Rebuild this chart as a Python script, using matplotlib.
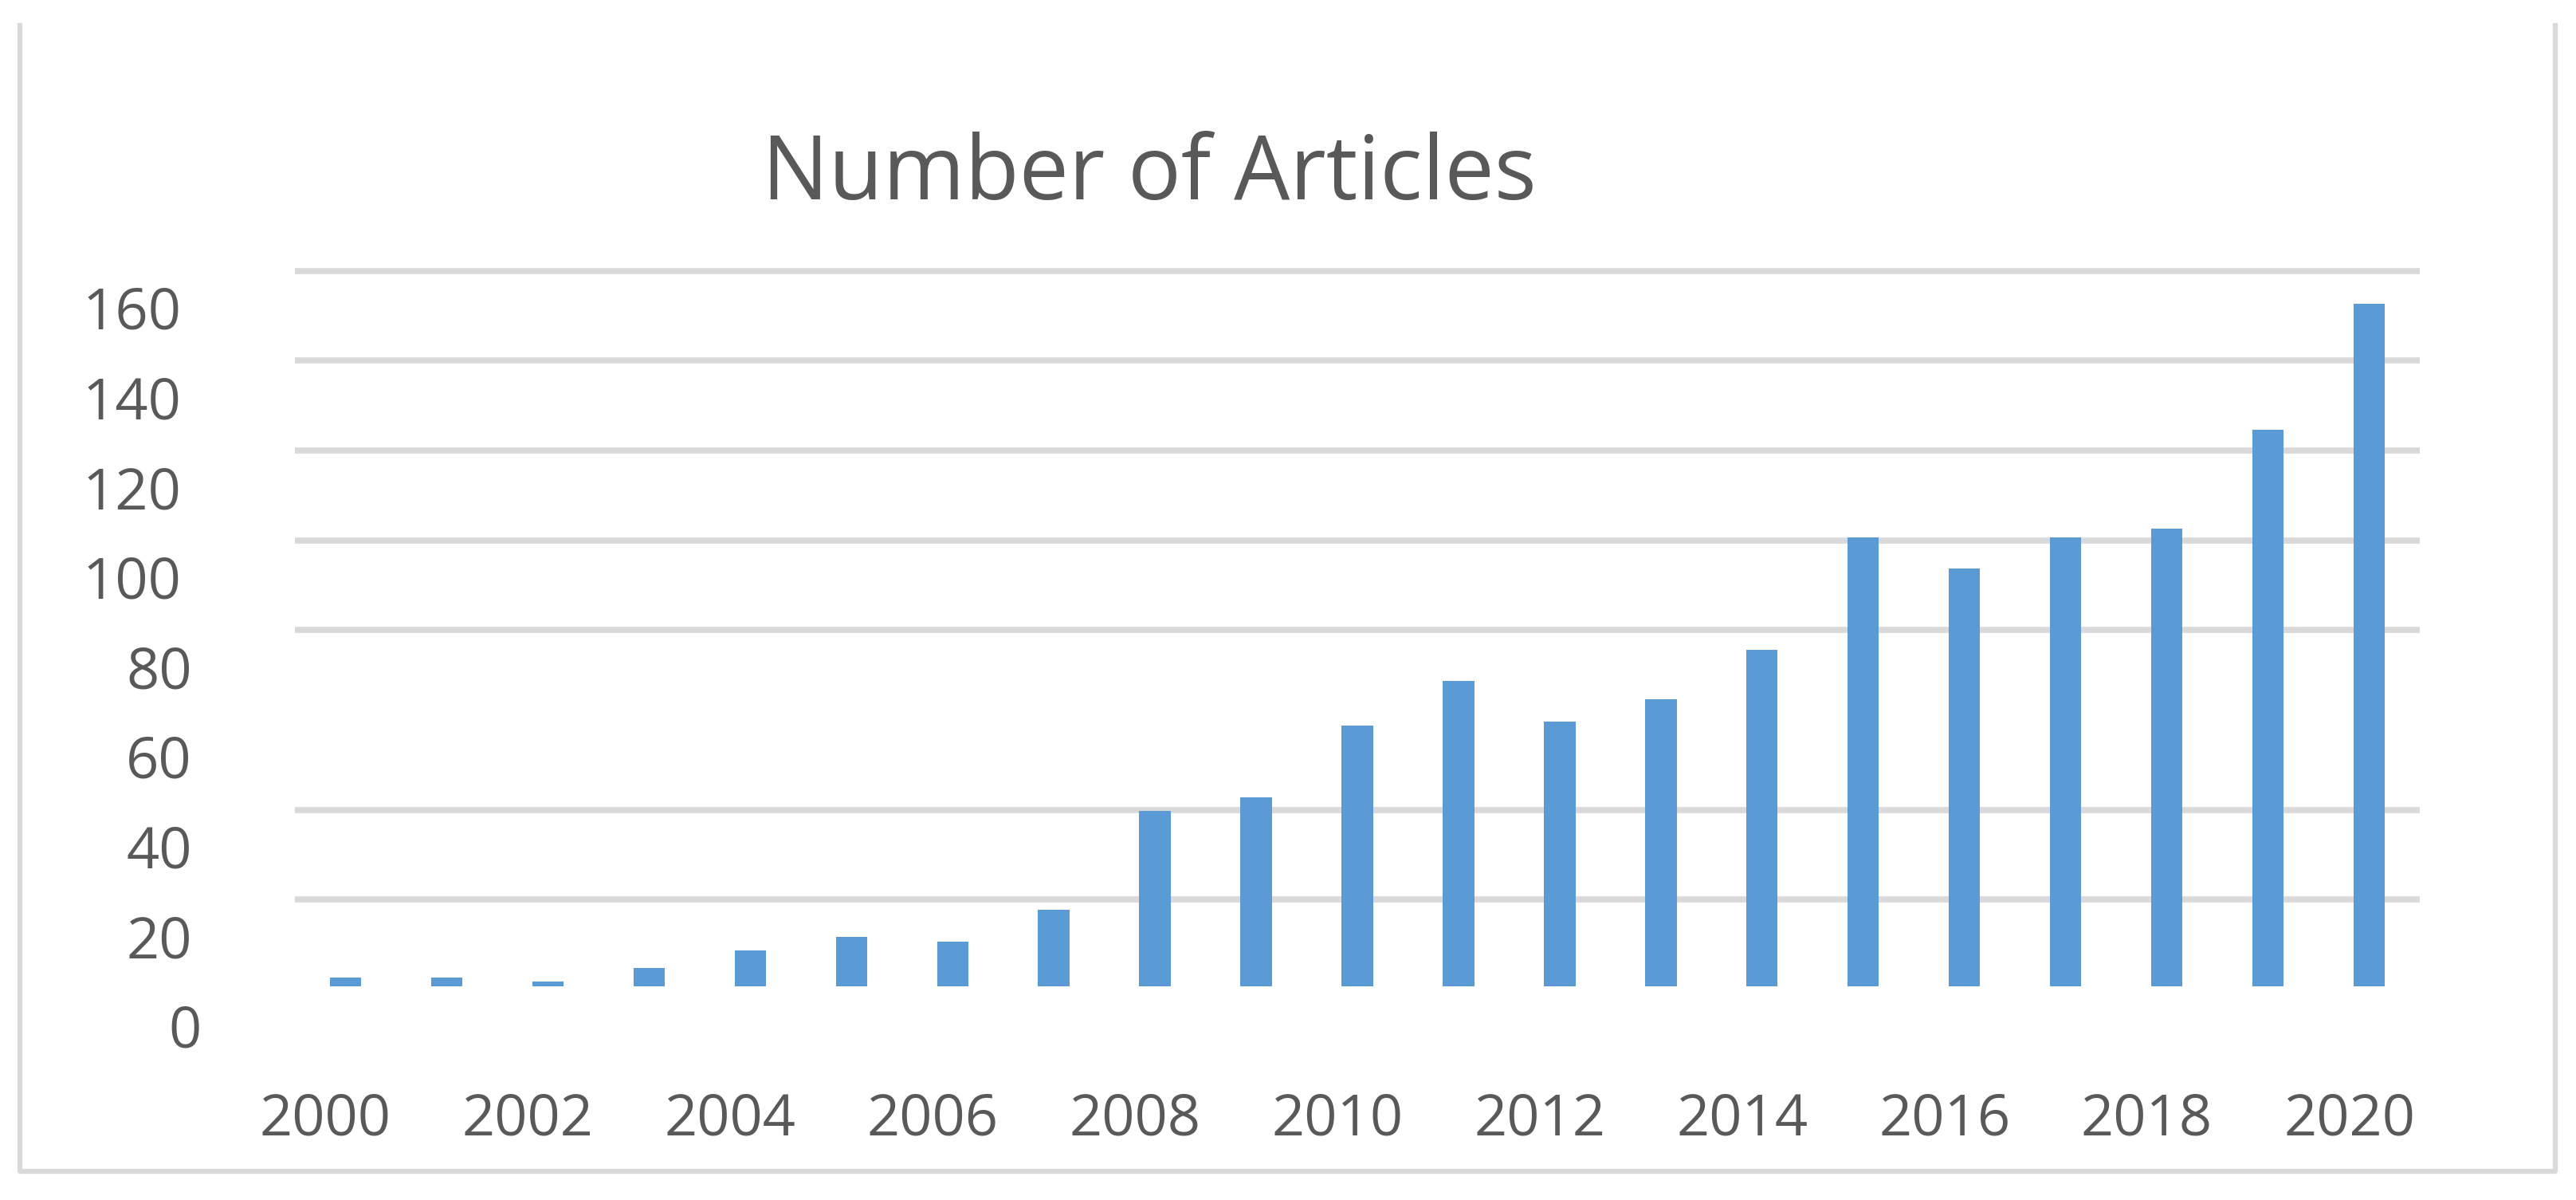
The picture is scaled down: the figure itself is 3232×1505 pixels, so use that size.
import matplotlib
matplotlib.use('Agg')
import matplotlib.pyplot as plt
from matplotlib.lines import Line2D
from matplotlib.transforms import ScaledTranslation

plt.rcParams['font.family'] = ['Open Sans', 'DejaVu Sans']

# data
years = list(range(2000, 2021))
articles = [2, 2, 1, 4, 8, 11, 10, 17, 39, 42, 58, 68, 59, 64, 75,
            100, 93, 100, 102, 124, 152]
grid_values = [0, 20, 40, 80, 100, 120, 140, 160]   # the 60 line is missing
label_values = [0, 20, 40, 60, 80, 100, 120, 140, 160]
xtick_years = list(range(2000, 2021, 2))

text_color = '#595959'
grid_color = '#D9D9D9'
bar_color = '#5B9BD5'

fig = plt.figure(figsize=(32.32, 15.05), dpi=100)
ax = fig.add_axes([370 / 3232, 1 - 1237 / 1505, 2666 / 3232, 901 / 1505])

x = [y - years[0] for y in years]
# gridlines hang just under their value so bars sit on top of them
gl = ax.hlines(grid_values, -0.5, len(years) - 0.5, color=grid_color, lw=5.5, zorder=1)
gl.set_transform(ax.transData + ScaledTranslation(0, -0.038, fig.dpi_scale_trans))
ax.bar(x, articles, width=0.31, color=bar_color, zorder=2)

ax.set_xlim(-0.5, len(years) - 0.5)
ax.set_ylim(0, 160)

for s in ax.spines.values():
    s.set_visible(False)
ax.set_yticks([])
ax.set_xticks([y - years[0] for y in xtick_years])
ax.set_xticklabels([str(y) for y in xtick_years], fontsize=52, color=text_color)
ax.tick_params(axis='x', length=0, pad=95)
for lab in ax.get_xticklabels():
    lab.set_transform(lab.get_transform() + ScaledTranslation(-0.25, 0, fig.dpi_scale_trans))

# y labels sit half a step below their gridlines, ragged right edge
shift = {1: 0.0, 2: -12, 3: -26}
ytr = ax.get_yaxis_transform()
for v in label_values:
    s = str(v)
    t = ax.text(-0.0439, v - 10.3, s, transform=ytr, ha='right', va='center',
                fontsize=52, color=text_color)
    t.set_transform(ytr + ScaledTranslation(shift[len(s)] / 100, 0, fig.dpi_scale_trans))

fig.text(1442 / 3232, 1 - 221 / 1505, 'Number of Articles', ha='center', va='center',
         fontsize=80, color=text_color)

# outer chart border (left, bottom, right)
bx0, bx1 = 25 / 3232, 3206 / 3232
by0, by1 = 1 - 1469 / 1505, 1 - 32 / 1505
fig.add_artist(Line2D([bx0, bx0, bx1, bx1], [by1, by0, by0, by1],
                      transform=fig.transFigure, color=grid_color, lw=4.5))

fig.savefig('out.png', dpi=100, facecolor='white')
